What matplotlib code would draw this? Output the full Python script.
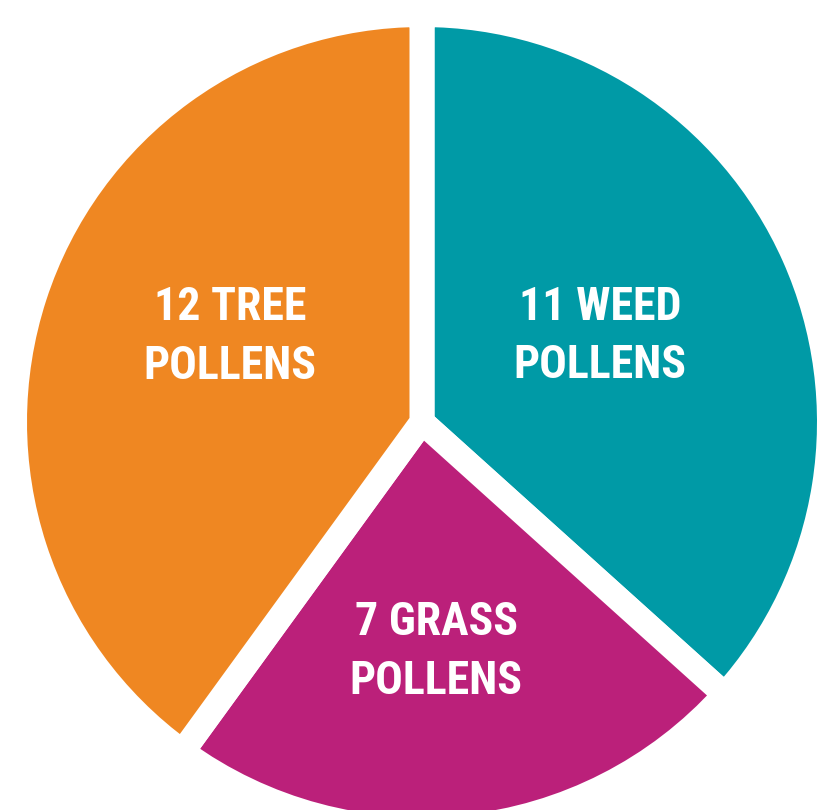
import numpy as np
import matplotlib
matplotlib.use("Agg")
import matplotlib.pyplot as plt

# slices, clockwise from 12 o'clock
names = ["11 WEED\nPOLLENS", "7 GRASS\nPOLLENS", "12 TREE\nPOLLENS"]
counts = [11, 7, 12]
colors = ["#009AA6", "#BB207A", "#EF8722"]

# label placement: distance from centre and angle tweak (deg) from wedge middle
label_r = [0.485, 0.565, 0.515]
label_dang = [1.8, -2.5, -6.0]

fig = plt.figure(figsize=(8.18, 8.10), dpi=100)
ax = fig.add_axes([0, 0, 1, 1])

wedges, _ = ax.pie(counts, colors=colors, startangle=90, counterclock=False,
                   radius=1.0,
                   wedgeprops=dict(edgecolor="white", linewidth=18))

for w, txt, r, da in zip(wedges, names, label_r, label_dang):
    mid = np.deg2rad((w.theta1 + w.theta2) / 2 + da)
    ax.text(r * np.cos(mid), r * np.sin(mid), txt, color="white",
            ha="center", va="center", fontsize=33, fontweight="bold",
            family=["Roboto Condensed", "DejaVu Sans"],
            linespacing=1.42)

# crop like the reference: pie slightly cut at right and bottom
ax.set_aspect("auto")
ax.set_xlim(-1.0356, 0.9718)
ax.set_ylim(-0.9521, 1.0356)
ax.axis("off")

fig.savefig("out.png", dpi=100, facecolor="white")
